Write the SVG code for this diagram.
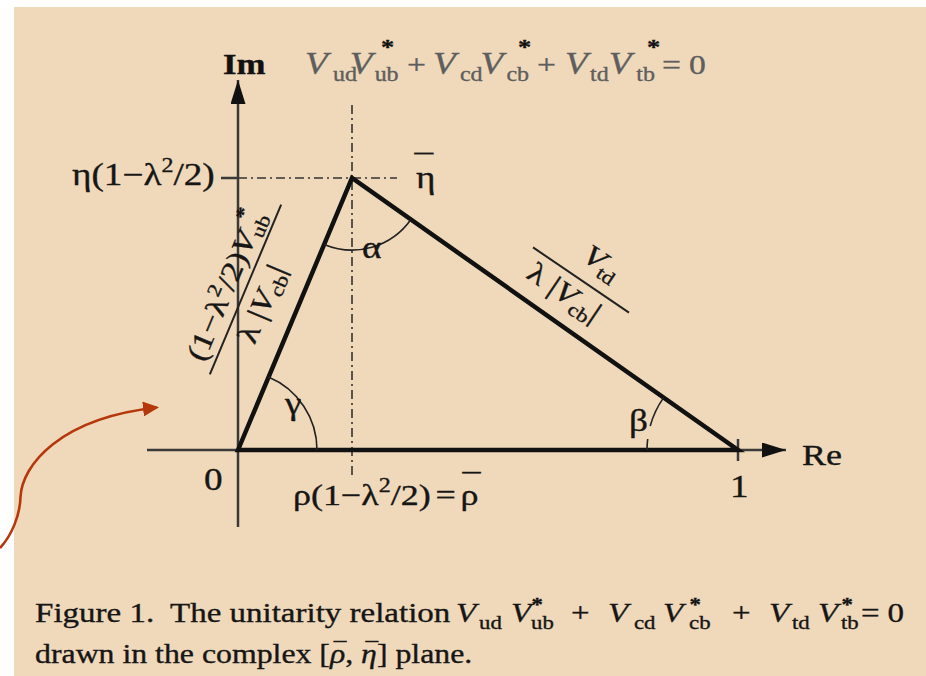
<svg xmlns="http://www.w3.org/2000/svg" width="926" height="676" viewBox="0 0 926 676">
<defs>
<style>
.bg{fill:#F0D9BA}
.ax{stroke:#3a3a3a;stroke-width:2.5;fill:none}
.tri{stroke:#111;stroke-width:4.5;fill:none;stroke-linejoin:miter}
.dd{stroke:#333;stroke-width:1.6;fill:none;stroke-dasharray:9 4 2 4}
.arc{stroke:#222;stroke-width:1.6;fill:none}
.fr{stroke:#222;stroke-width:2}
.red{stroke:#B5380C;stroke-width:2.6;fill:none}
text{font-family:"Liberation Serif","Times New Roman",serif;fill:#161616;stroke:#161616;stroke-width:0.35px}
.L{font-size:31px}
.g{fill:#5e5e5e;stroke:#5e5e5e}
.i{font-style:italic}
.n{font-style:normal}
.sub{font-size:20px}
.st{font-weight:bold;fill:#111}
.cap{font-size:27.5px}
</style>
<marker id="ah" viewBox="0 0 24 15" refX="24" refY="7.5" markerWidth="24" markerHeight="15" markerUnits="userSpaceOnUse" orient="auto">
<path d="M0,0 L24,7.5 L0,15 z" fill="#111"/>
</marker>
<marker id="rh" viewBox="0 0 16 15" refX="14" refY="7.5" markerWidth="16" markerHeight="15" markerUnits="userSpaceOnUse" orient="auto">
<path d="M0,0 L16,7.5 L0,15 z" fill="#B5380C"/>
</marker>
</defs>
<rect x="0" y="0" width="926" height="676" fill="#ffffff"/>
<rect class="bg" x="14" y="7" width="912" height="669"/>

<g id="connectors">
<g id="axes">
<line class="ax" x1="147" y1="450" x2="786" y2="450" marker-end="url(#ah)"/>
<line class="ax" x1="238" y1="527" x2="238" y2="80" marker-end="url(#ah)"/>
<line class="ax" x1="738" y1="439" x2="738" y2="461"/>
<line class="ax" x1="221" y1="178" x2="238" y2="178"/>
</g>
<g id="guides">
<line class="dd" x1="238" y1="178" x2="397" y2="178"/>
<line class="dd" x1="352" y1="105" x2="352" y2="477"/>
</g>
<g id="triangle">
<polygon class="tri" points="238,450 352,178 738,450"/>
</g>
<g id="angles">
<path class="arc" d="M317 450 A79 79 0 0 0 268.5 377.1"/>
<path class="arc" d="M324.2 244.4 A72 72 0 0 0 410.9 219.5"/>
<path class="arc" d="M663.6 397.6 A91 91 0 0 0 650.2 426"/>
<path class="arc" d="M647.7 439 A91 91 0 0 0 647 450"/>
</g>
<path id="pointer" class="red" d="M0 548 C12 535 20 515 20.5 497 C22 465 60 418 157 407.5" marker-end="url(#rh)"/>
</g>

<g id="labels" transform="scale(1.2 1)">
<g id="title-eq">
<text class="st" font-size="29" x="185.8" y="74">Im</text>
<text class="g i" font-size="31" x="254.2" y="74">V</text>
<text class="g sub" x="277.5" y="81">ud</text>
<text class="g i" font-size="31" x="291.5" y="74">V</text>
<text class="g sub" x="312.2" y="81">ub</text>
<text class="st" font-size="22" x="317.5" y="54">*</text>
<text class="g" font-size="28" x="339.2" y="74">+</text>
<text class="g i" font-size="31" x="360.8" y="74">V</text>
<text class="g sub" x="383.3" y="81">cd</text>
<text class="g i" font-size="31" x="400.5" y="74">V</text>
<text class="g sub" x="422" y="81">cb</text>
<text class="st" font-size="22" x="431.7" y="54">*</text>
<text class="g" font-size="28" x="447.5" y="74">+</text>
<text class="g i" font-size="31" x="470.8" y="74">V</text>
<text class="g sub" x="491.7" y="81">td</text>
<text class="g i" font-size="31" x="507.2" y="74">V</text>
<text class="g sub" x="530.3" y="81">tb</text>
<text class="st" font-size="22" x="539.2" y="54">*</text>
<text class="g" font-size="28" x="551.7" y="74">=</text>
<text class="g" font-size="28" x="574.2" y="74">0</text>
</g>
<g id="axis-labels">
<text class="L" x="60" y="185">η(1−λ<tspan font-size="20" dy="-13">2</tspan><tspan dy="13">/2)</tspan></text>
<text class="L" x="346.7" y="188">η</text>
<text class="L" x="345.5" y="177">¯</text>
<text class="L" x="301.7" y="258">α</text>
<text class="L" x="237.5" y="414">γ</text>
<text class="L" x="524.2" y="431">β</text>
<text class="L" x="170" y="490">0</text>
<text class="L" x="608.3" y="497">1</text>
<text font-size="30" x="668.3" y="465">Re</text>
<text font-size="30" x="244.2" y="505">ρ(1−λ<tspan font-size="20" dy="-13">2</tspan><tspan dy="13">/2)</tspan><tspan dx="4">=</tspan><tspan dx="4">ρ</tspan></text>
<text font-size="30" x="385.4" y="494">¯</text>
</g>
<g id="caption">
<text class="cap" x="29.2" y="622">Figure 1.</text>
<text class="cap" x="141.7" y="622">The unitarity relation</text>
<text class="cap i" font-size="28" x="380" y="622">V</text>
<text font-size="19" x="399.2" y="629">ud</text>
<text class="cap i" font-size="28" x="425.8" y="622">V</text>
<text class="st" font-size="19" x="443" y="611">*</text>
<text font-size="19" x="442.5" y="629">ub</text>
<text class="cap" x="475.8" y="622">+</text>
<text class="cap i" font-size="28" x="506.7" y="622">V</text>
<text font-size="19" x="528.3" y="629">cd</text>
<text class="cap i" font-size="28" x="552.5" y="622">V</text>
<text class="st" font-size="19" x="574.6" y="611">*</text>
<text font-size="19" x="574.2" y="629">cb</text>
<text class="cap" x="610" y="622">+</text>
<text class="cap i" font-size="28" x="640.8" y="622">V</text>
<text font-size="19" x="660" y="629">td</text>
<text class="cap i" font-size="28" x="681.7" y="622">V</text>
<text class="st" font-size="19" x="701.2" y="611">*</text>
<text font-size="19" x="700.8" y="629">tb</text>
<text class="cap" x="717.5" y="622">=</text>
<text class="cap" x="739.5" y="622">0</text>
<text font-size="26.5" x="29.2" y="663">drawn in the complex [<tspan class="i">ρ</tspan>, <tspan class="i">η</tspan>] plane.</text>
<text class="i" font-size="21" x="276.5" y="657">¯</text>
<text class="i" font-size="21" x="303" y="657">¯</text>
</g>
</g>

<g id="side-left" transform="translate(245.5 289.5) rotate(-67.2)">
<line class="fr" x1="-92" y1="0" x2="92" y2="0"/>
<g transform="scale(1.2 1)">
<text font-size="29" x="-70" y="-10">(1−λ<tspan font-size="19" dy="-12">2</tspan><tspan dy="12">/2)</tspan><tspan class="i">V</tspan><tspan font-size="19" dy="6">ub</tspan></text>
<text class="st" font-size="20" x="52.5" y="-25">*</text>
<text font-size="29" x="-40" y="30">λ |<tspan class="i">V</tspan><tspan font-size="19" dy="6">cb</tspan><tspan dy="-6">|</tspan></text>
</g>
</g>

<g id="side-right" transform="translate(581 280) rotate(34.2)">
<line class="fr" x1="-58" y1="0" x2="58" y2="0"/>
<g transform="scale(1.2 1)">
<text class="i" font-size="29" x="-10" y="-17">V<tspan class="n" font-size="19" dy="6">td</tspan></text>
<text font-size="29" x="-40" y="29">λ |<tspan class="i">V</tspan><tspan font-size="19" dy="6">cb</tspan><tspan dy="-6">|</tspan></text>
</g>
</g>
</svg>
